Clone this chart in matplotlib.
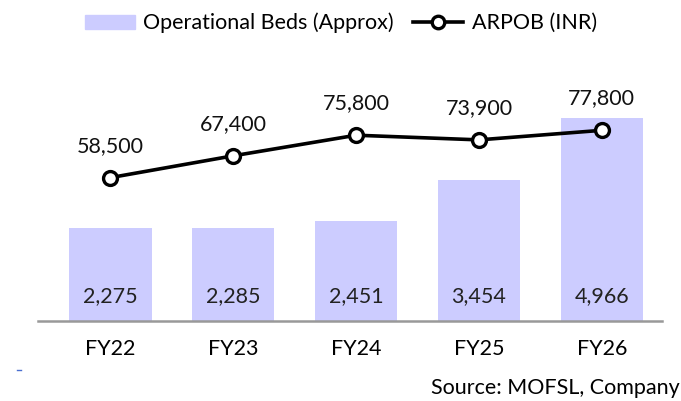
import matplotlib
matplotlib.use("Agg")
import matplotlib.pyplot as plt
from matplotlib.lines import Line2D
from matplotlib.patches import Patch

categories = ["FY22", "FY23", "FY24", "FY25", "FY26"]
beds = [2275, 2285, 2451, 3454, 4966]
arpob = [58500, 67400, 75800, 73900, 77800]
bed_labels = ["2,275", "2,285", "2,451", "3,454", "4,966"]
arpob_labels = ["58,500", "67,400", "75,800", "73,900", "77,800"]

plt.rcParams['font.family'] = ['Lato', 'DejaVu Sans']
W, H = 681, 401
fig = plt.figure(figsize=(W/100, H/100), dpi=100)
left, right, base, top = 38, 662, 321, 40
ax = fig.add_axes([left/W, (H-base)/H, (right-left)/W, (base-top)/H])
x = list(range(len(categories)))
ax.bar(x, beds, width=0.67, color="#CCCCFF", zorder=1)
ax.set_xlim(-0.59, 4.49)
ax.set_ylim(0, (base-top)*24.46)
FS = 15.5
for xi, lab in zip(x, bed_labels):
    ax.text(xi, 25*24.46, lab, ha="center", va="center", fontsize=FS, color="#222222")
for s in ["top", "right", "left"]:
    ax.spines[s].set_visible(False)
ax.spines["bottom"].set_color("#999999")
ax.spines["bottom"].set_linewidth(1.8)
ax.set_yticks([])
ax.set_xticks(x)
ax.set_xticklabels(categories, fontsize=FS)
ax.tick_params(axis="x", length=0, pad=13)

ax2 = ax.twinx()
ax2.set_ylim(0, (base-top)*408)
ax2.plot(x, arpob, color="black", lw=2.6, marker="o", ms=10, mfc="white", mec="black", mew=2.4, zorder=3)
for xi, v, lab in zip(x, arpob, arpob_labels):
    ax2.text(xi, v + 32*408, lab, ha="center", va="center", fontsize=FS, color="#111111")
ax2.set_yticks([])
for s in ax2.spines.values():
    s.set_visible(False)

handles = [Patch(color="#CCCCFF", label="Operational Beds (Approx)"),
           Line2D([], [], color="black", lw=2.6, marker="o", ms=9, mfc="white", mec="black", mew=2.4, label="ARPOB (INR)")]
fig.legend(handles=handles, loc="center", bbox_to_anchor=(341/W, 1-23/H), ncol=2, frameon=False,
           fontsize=FS, handlelength=2.3, handleheight=0.6, columnspacing=0.9, handletextpad=0.4)

fig.text(680/W, 1-388/H, "Source: MOFSL, Company", ha="right", va="center", fontsize=FS)
fig.add_artist(Line2D([17/W, 21/W], [1-370/H, 1-370/H], color="#4a6fd0", lw=1))

fig.savefig("out.png", dpi=100)
